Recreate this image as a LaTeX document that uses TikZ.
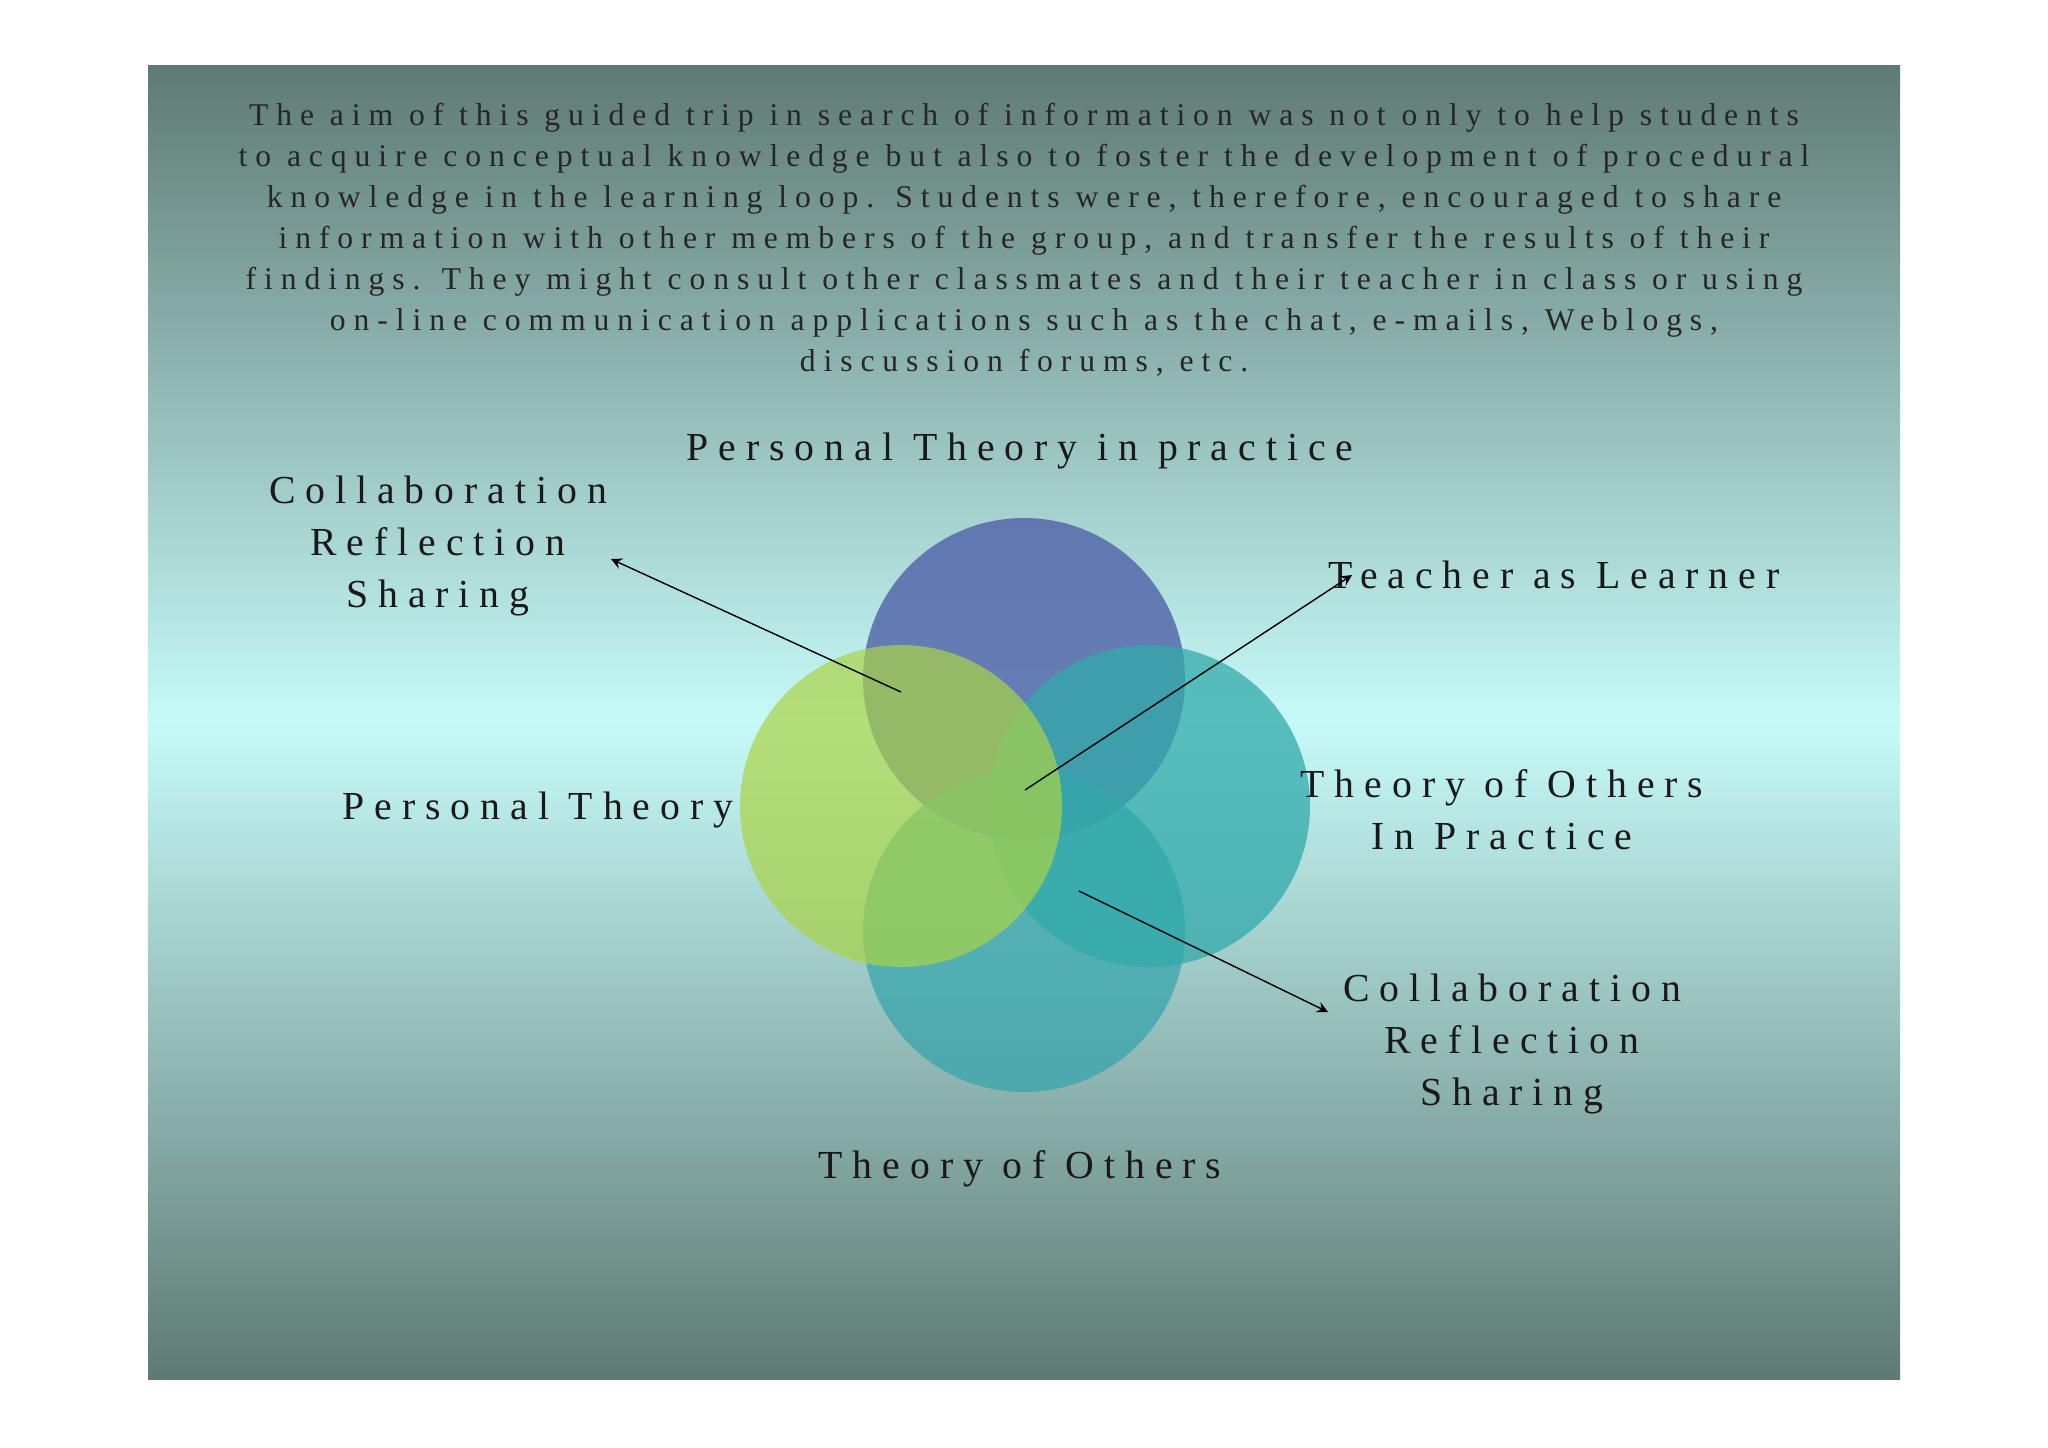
\documentclass[tikz,border=0pt]{standalone}
\usepackage{fontspec}
\setmainfont{Liberation Serif}
\newfontfamily\spaced[LetterSpace=25]{Liberation Serif}
\begin{document}
\begin{tikzpicture}[x=0.01cm,y=-0.01cm,
  para/.style={font=\spaced\fontsize{9}{11.65}\selectfont,align=center,text=black!85},
  lbl/.style={font=\spaced\fontsize{11.3}{14.8}\selectfont,align=center,text=black!90},
  circ/.style={fill opacity=0.75},
  arr/.style={-stealth,thin}]
\useasboundingbox (0,0) rectangle (2048,1447);
\fill[white] (0,0) rectangle (2048,1447);
\shade[top color={rgb,255:red,95;green,122;blue,116}, bottom color={rgb,255:red,198;green,250;blue,248}] (148,65) rectangle (1900,722);
\shade[top color={rgb,255:red,198;green,250;blue,248}, bottom color={rgb,255:red,95;green,122;blue,116}] (148,721) rectangle (1900,1379);
\node[para] (txt) at (1024,240) {The aim of this guided trip in search of information was not only to help students\\
to acquire conceptual knowledge but also to foster the development of procedural\\
knowledge in the learning loop. Students were, therefore, encouraged to share\\
information with other members of the group, and transfer the results of their\\
findings. They might consult other classmates and their teacher in class or using\\
on-line communication applications such as the chat, e-mails, Weblogs,\\
discussion forums, etc.};
\fill[circ,fill={rgb,255:red,85;green,105;blue,170},fill opacity=0.85] (1024,679) circle (161) coordinate (ct);
\fill[circ,fill={rgb,255:red,55;green,165;blue,172}] (1024,931) circle (161) coordinate (cb);
\fill[circ,fill={rgb,255:red,50;green,170;blue,170}] (1149,806) circle (161) coordinate (cr);
\fill[circ,fill={rgb,255:red,170;green,212;blue,70},fill opacity=0.7] (901,806) circle (161) coordinate (cl);
\node[lbl] (ptp) at (1020,451) {Personal Theory in practice};
\node[lbl] (cl1) at (438,546) {Collaboration\\Reflection\\Sharing};
\node[lbl] (tal) at (1554,575) {Teacher as Learner};
\node[lbl] (pt) at (538,810) {Personal Theory};
\node[lbl] (top) at (1502,810) {Theory of Others\\In Practice};
\node[lbl] (cl2) at (1512,1044) {Collaboration\\Reflection\\Sharing};
\node[lbl] (to) at (1020,1169) {Theory of Others};
\coordinate (a1s) at (901,692); \coordinate (a1e) at (611,559);
\coordinate (a2s) at (1025,790); \coordinate (a2e) at (1352,575);
\coordinate (a3s) at (1079,891); \coordinate (a3e) at (1328,1012);
\draw[arr] (a1s) -- (a1e);
\draw[arr] (a2s) -- (a2e);
\draw[arr] (a3s) -- (a3e);
\end{tikzpicture}
\end{document}
